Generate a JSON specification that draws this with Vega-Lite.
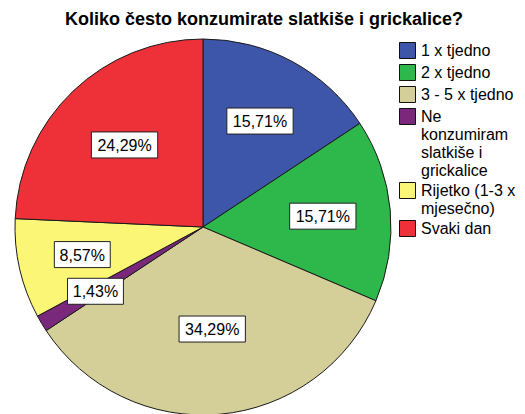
{
  "$schema": "https://vega.github.io/schema/vega-lite/v6.json",
  "width": 376,
  "height": 376,
  "autosize": "none",
  "padding": {"left": 15, "top": 39, "right": 134, "bottom": 0},
  "title": {
    "text": "Koliko često konzumirate slatkiše i grickalice?",
    "font": "Liberation Sans",
    "fontSize": 18,
    "fontWeight": "bold",
    "color": "#000000",
    "anchor": "middle",
    "frame": "group",
    "dx": 61,
    "offset": 8
  },
  "data": {
    "values": [
      {"cat": "1 x tjedno", "pct": 0.1571},
      {"cat": "2 x tjedno", "pct": 0.1571},
      {"cat": "3 - 5 x tjedno", "pct": 0.3429},
      {"cat": "Ne konzumiram slatkiše i grickalice", "pct": 0.0143},
      {"cat": "Rijetko (1-3 x mjesečno)", "pct": 0.0857},
      {"cat": "Svaki dan", "pct": 0.2429}
    ]
  },
  "transform": [
    {"window": [{"op": "sum", "field": "pct", "as": "cum"}], "sort": [{"field": "cat", "order": "ascending"}], "frame": [null, 0]},
    {"joinaggregate": [{"op": "sum", "field": "pct", "as": "total"}]},
    {"calculate": "PI * datum.pct / datum.total", "as": "h"},
    {"calculate": "2 * PI * (datum.cum - datum.pct / 2) / datum.total", "as": "mid"},
    {"calculate": "2 * sin(datum.h) / (3 * datum.h)", "as": "k"},
    {"calculate": "datum.k * sin(datum.mid)", "as": "px"},
    {"calculate": "datum.k * cos(datum.mid)", "as": "py"}
  ],
  "layer": [
    {
      "mark": {"type": "arc", "outerRadius": 188, "stroke": "#1a1a1a", "strokeWidth": 1},
      "encoding": {
        "theta": {"field": "pct", "type": "quantitative", "stack": true},
        "order": {"field": "cat", "type": "ordinal", "sort": "ascending"},
        "color": {
          "field": "cat",
          "type": "nominal",
          "scale": {
            "domain": ["1 x tjedno", "2 x tjedno", "3 - 5 x tjedno", "Ne konzumiram slatkiše i grickalice", "Rijetko (1-3 x mjesečno)", "Svaki dan"],
            "range": ["#3e56a9", "#2eb84c", "#d4cf98", "#7a287b", "#fcf677", "#ee3038"]
          },
          "legend": {
            "title": null,
            "orient": "none",
            "legendX": 384,
            "legendY": 3,
            "padding": 0,
            "symbolType": "square",
            "symbolSize": 256,
            "symbolStrokeColor": "#111111",
            "symbolStrokeWidth": 1,
            "symbolOpacity": 1,
            "labelFont": "Liberation Sans",
            "labelFontSize": 16,
            "labelColor": "#000000",
            "labelOffset": 5,
            "labelLimit": 200,
            "rowPadding": 1,
            "labelExpr": "datum.label == 'Ne konzumiram slatkiše i grickalice' ? ['Ne', 'konzumiram', 'slatkiše i', 'grickalice'] : datum.label == 'Rijetko (1-3 x mjesečno)' ? ['Rijetko (1-3 x', 'mjesečno)'] : datum.label"
          }
        }
      }
    },
    {
      "mark": {"type": "point", "filled": true, "fill": "#ffffff", "stroke": "#222222", "strokeWidth": 1, "opacity": 1, "size": 676},
      "encoding": {
        "x": {"field": "px", "type": "quantitative", "scale": {"domain": [-1, 1]}, "axis": null},
        "y": {"field": "py", "type": "quantitative", "scale": {"domain": [-1, 1]}, "axis": null},
        "shape": {
          "condition": {"test": "datum.pct < 0.1", "value": "M-2.15,-1H2.15V1H-2.15Z"},
          "value": "M-2.55,-1H2.55V1H-2.55Z"
        }
      }
    },
    {
      "mark": {"type": "text", "font": "Liberation Sans", "fontSize": 16, "color": "#000000", "baseline": "middle", "align": "center", "dy": 1},
      "encoding": {
        "x": {"field": "px", "type": "quantitative", "scale": {"domain": [-1, 1]}, "axis": null},
        "y": {"field": "py", "type": "quantitative", "scale": {"domain": [-1, 1]}, "axis": null},
        "text": {"field": "pct", "type": "quantitative", "format": ".2%"}
      }
    }
  ],
  "config": {
    "view": {"stroke": null},
    "locale": {"number": {"decimal": ",", "thousands": ".", "grouping": [3], "currency": ["", " €"]}}
  }
}
